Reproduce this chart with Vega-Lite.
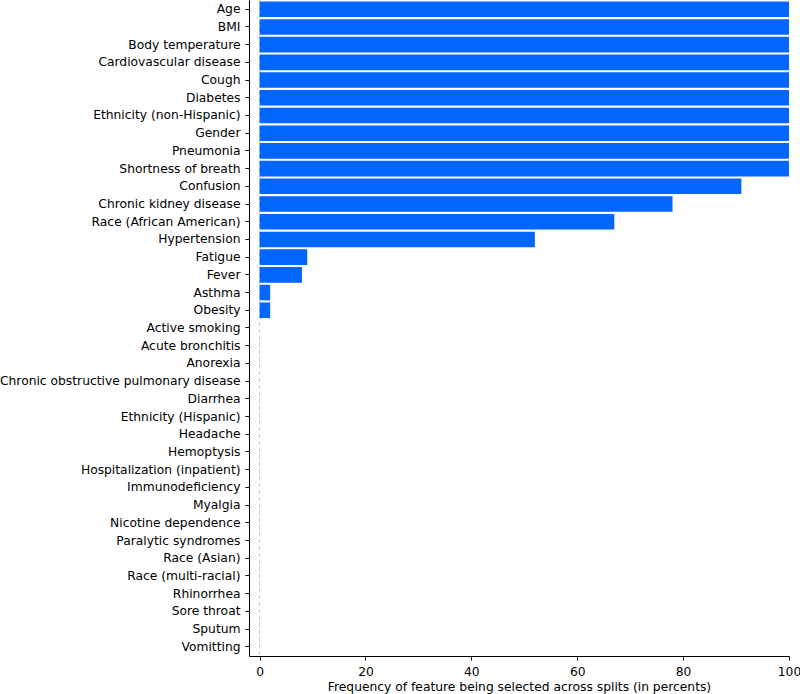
{
  "$schema": "https://vega.github.io/schema/vega-lite/v6.json",
  "autosize": "none",
  "width": 540,
  "height": 656,
  "padding": {"left": 249, "top": 0, "right": 11, "bottom": 38},
  "background": "white",
  "config": {
    "view": {"stroke": null},
    "font": "DejaVu Sans",
    "axis": {"labelFont": "DejaVu Sans", "titleFont": "DejaVu Sans", "labelColor": "black", "titleColor": "black", "domainColor": "black", "tickColor": "black", "grid": false}
  },
  "datasets": {
    "features": [
      {"feature": "Age", "freq": 100},
      {"feature": "BMI", "freq": 100},
      {"feature": "Body temperature", "freq": 100},
      {"feature": "Cardiovascular disease", "freq": 100},
      {"feature": "Cough", "freq": 100},
      {"feature": "Diabetes", "freq": 100},
      {"feature": "Ethnicity (non-Hispanic)", "freq": 100},
      {"feature": "Gender", "freq": 100},
      {"feature": "Pneumonia", "freq": 100},
      {"feature": "Shortness of breath", "freq": 100},
      {"feature": "Confusion", "freq": 91},
      {"feature": "Chronic kidney disease", "freq": 78},
      {"feature": "Race (African American)", "freq": 67},
      {"feature": "Hypertension", "freq": 52},
      {"feature": "Fatigue", "freq": 9},
      {"feature": "Fever", "freq": 8},
      {"feature": "Asthma", "freq": 2},
      {"feature": "Obesity", "freq": 2},
      {"feature": "Active smoking", "freq": 0},
      {"feature": "Acute bronchitis", "freq": 0},
      {"feature": "Anorexia", "freq": 0},
      {"feature": "Chronic obstructive pulmonary disease", "freq": 0},
      {"feature": "Diarrhea", "freq": 0},
      {"feature": "Ethnicity (Hispanic)", "freq": 0},
      {"feature": "Headache", "freq": 0},
      {"feature": "Hemoptysis", "freq": 0},
      {"feature": "Hospitalization (inpatient)", "freq": 0},
      {"feature": "Immunodeficiency", "freq": 0},
      {"feature": "Myalgia", "freq": 0},
      {"feature": "Nicotine dependence", "freq": 0},
      {"feature": "Paralytic syndromes", "freq": 0},
      {"feature": "Race (Asian)", "freq": 0},
      {"feature": "Race (multi-racial)", "freq": 0},
      {"feature": "Rhinorrhea", "freq": 0},
      {"feature": "Sore throat", "freq": 0},
      {"feature": "Sputum", "freq": 0},
      {"feature": "Vomitting", "freq": 0}
    ],
    "zero": [{"x": 0}]
  },
  "layer": [
    {
      "data": {"name": "zero"},
      "mark": {"type": "rule", "color": "#c8c8c8", "strokeDash": [4, 3], "strokeWidth": 1},
      "encoding": {"x": {"field": "x", "type": "quantitative", "scale": {"domain": [-2, 100], "nice": false, "zero": false}}}
    },
    {
      "data": {"name": "features"},
      "mark": {"type": "bar", "color": "#0066ff"},
      "encoding": {
        "y": {
          "field": "feature", "type": "nominal", "sort": null,
          "scale": {"paddingInner": 0.12, "paddingOuter": 0.08},
          "axis": {"title": null, "labelFontSize": 12.3, "labelPadding": 5, "tickSize": 4, "domainWidth": 1, "labelLimit": 300}
        },
        "x": {
          "field": "freq", "type": "quantitative",
          "scale": {"domain": [-2, 100], "nice": false, "zero": false},
          "axis": {"values": [0, 20, 40, 60, 80, 100], "title": "Frequency of feature being selected across splits (in percents)", "labelFontSize": 12.3, "titleFontSize": 12.3, "titleFontWeight": "normal", "tickSize": 4, "labelPadding": 5, "titlePadding": 3, "labelFlush": false}
        },
        "x2": {"datum": 0}
      }
    }
  ]
}
